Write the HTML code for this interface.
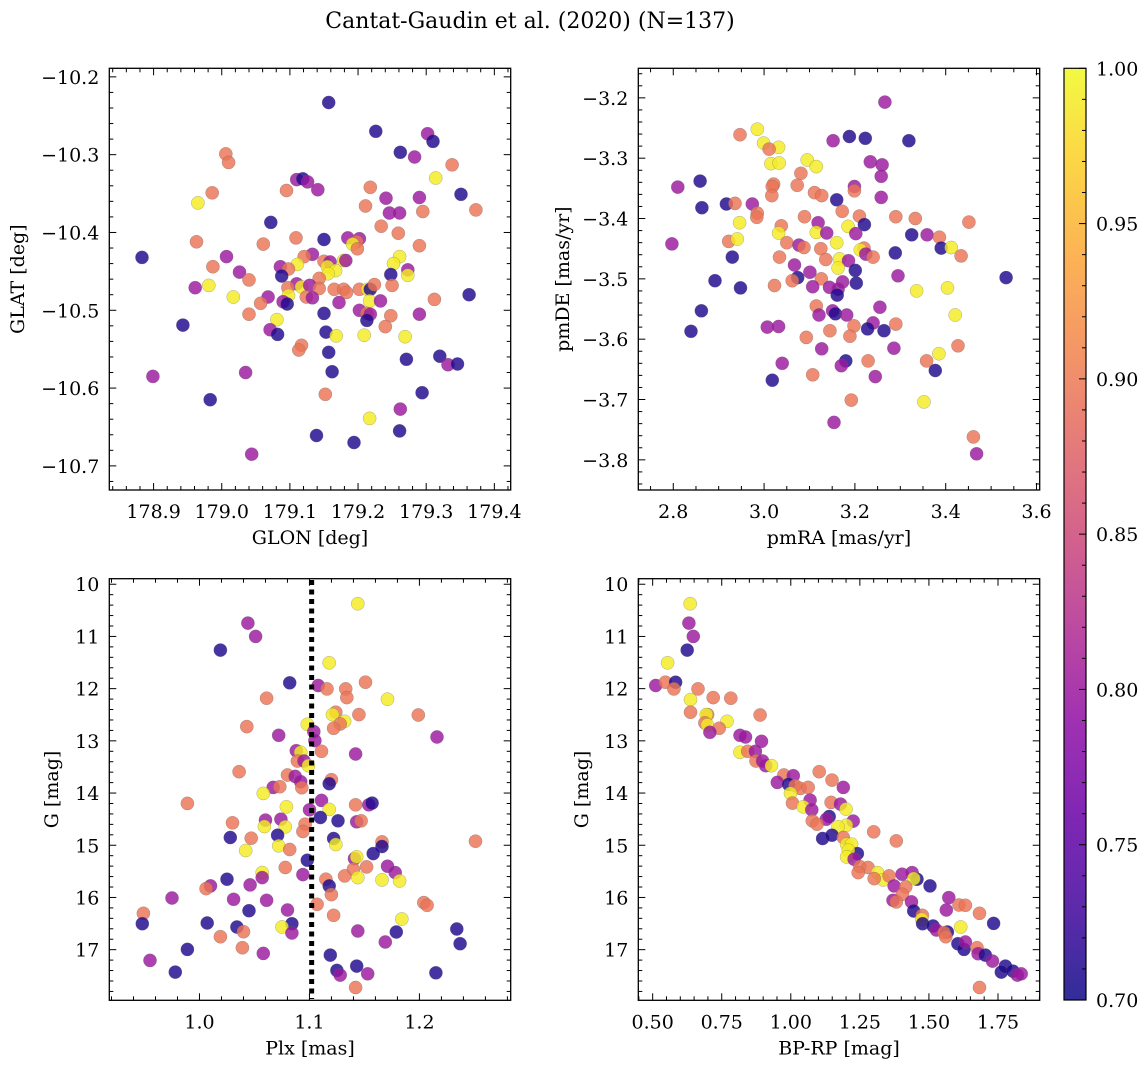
<!DOCTYPE html>
<html><head><meta charset="utf-8"><style>
html,body{margin:0;padding:0;background:#fff;}
svg{display:block;font-family:"DejaVu Serif","Liberation Serif",serif;}
</style></head><body>
<svg id="fig" width="1148" height="1067" viewBox="0 0 1148 1067" xmlns="http://www.w3.org/2000/svg">
<rect width="1148" height="1067" fill="#fff"/>
<text x="530" y="28" font-size="22" text-anchor="middle">Cantat-Gaudin et al. (2020) (N=137)</text>
</svg>
<script>
// ---- Panel 1: GLON vs GLAT ----
const glon = [179.157,179.226,179.302,179.310,179.262,179.283,179.006,179.010,179.338,179.314,179.110,179.119,179.126,179.141,179.095,178.986,179.218,179.351,178.965,179.241,179.290,179.211,179.373,179.246,179.261,179.295,179.072,179.234,179.259,179.109,179.150,179.185,179.202,179.198,179.192,179.199,178.963,179.061,179.290,178.883,179.007,179.133,179.121,179.261,179.252,179.111,179.086,179.098,179.150,179.159,179.155,179.167,179.179,179.182,179.273,179.273,179.248,178.987,179.026,179.088,179.040,179.156,178.961,178.981,179.143,179.110,179.117,179.129,179.097,179.143,179.165,179.179,179.183,179.202,179.214,179.218,179.224,179.250,179.017,179.098,179.124,179.133,179.068,179.057,179.090,179.096,179.172,179.217,179.233,179.312,179.363,179.202,179.150,179.213,179.218,179.213,179.248,179.290,179.040,178.943,179.081,179.071,179.082,179.153,179.168,179.209,179.240,179.269,179.117,179.113,179.157,179.271,179.320,179.332,179.346,179.162,178.899,179.035,178.983,179.152,179.294,179.262,179.217,179.261,179.139,179.194,179.044];
const glat = [-10.233,-10.270,-10.273,-10.283,-10.297,-10.303,-10.299,-10.310,-10.313,-10.330,-10.332,-10.331,-10.335,-10.345,-10.346,-10.349,-10.342,-10.351,-10.362,-10.356,-10.355,-10.366,-10.371,-10.375,-10.375,-10.373,-10.387,-10.392,-10.401,-10.407,-10.409,-10.407,-10.408,-10.412,-10.415,-10.421,-10.412,-10.415,-10.417,-10.432,-10.431,-10.428,-10.431,-10.431,-10.440,-10.441,-10.444,-10.447,-10.437,-10.438,-10.444,-10.449,-10.436,-10.436,-10.448,-10.455,-10.454,-10.444,-10.451,-10.456,-10.461,-10.453,-10.471,-10.468,-10.459,-10.466,-10.470,-10.468,-10.471,-10.472,-10.473,-10.473,-10.477,-10.473,-10.473,-10.473,-10.467,-10.468,-10.483,-10.481,-10.483,-10.484,-10.483,-10.491,-10.489,-10.492,-10.490,-10.488,-10.488,-10.486,-10.480,-10.500,-10.504,-10.504,-10.505,-10.513,-10.507,-10.505,-10.505,-10.519,-10.512,-10.525,-10.531,-10.528,-10.533,-10.532,-10.521,-10.534,-10.545,-10.551,-10.554,-10.563,-10.559,-10.570,-10.569,-10.579,-10.585,-10.580,-10.615,-10.608,-10.606,-10.627,-10.639,-10.655,-10.661,-10.670,-10.685];
const prob1 = [0.71,0.71,0.80,0.71,0.71,0.80,0.895,0.895,0.895,0.99,0.80,0.71,0.80,0.80,0.895,0.895,0.895,0.71,0.99,0.80,0.80,0.895,0.895,0.80,0.80,0.895,0.71,0.895,0.895,0.895,0.71,0.80,0.80,0.895,0.99,0.895,0.895,0.895,0.895,0.71,0.80,0.80,0.895,0.99,0.99,0.99,0.80,0.895,0.895,0.80,0.99,0.99,0.99,0.80,0.80,0.99,0.71,0.895,0.80,0.71,0.895,0.99,0.80,0.99,0.895,0.80,0.99,0.80,0.895,0.895,0.895,0.895,0.895,0.895,0.99,0.71,0.895,0.895,0.99,0.99,0.895,0.80,0.80,0.895,0.80,0.71,0.80,0.99,0.80,0.895,0.71,0.80,0.71,0.895,0.80,0.71,0.895,0.80,0.895,0.71,0.99,0.80,0.71,0.71,0.99,0.99,0.895,0.99,0.895,0.895,0.71,0.71,0.71,0.80,0.71,0.71,0.80,0.80,0.71,0.895,0.71,0.80,0.99,0.71,0.71,0.71,0.80];

// ---- Panel 2: pmRA vs pmDE ----
const pmra = [3.266,2.985,2.947,3.152,3.188,3.223,3.319,2.999,3.032,3.011,3.015,3.033,3.095,3.115,3.234,3.260,3.081,3.258,2.859,2.810,3.021,3.018,3.073,3.199,3.199,3.111,3.127,3.017,3.258,2.863,2.917,2.936,2.974,3.160,3.172,2.985,2.984,2.946,3.089,3.210,3.290,3.333,3.451,3.038,3.119,3.185,3.221,3.032,3.115,3.138,3.202,3.325,3.359,3.386,2.922,2.941,3.050,2.797,3.077,3.088,3.160,3.125,3.220,3.212,3.224,3.240,3.390,3.412,3.434,3.289,2.930,3.034,3.136,3.166,3.186,3.067,3.163,3.201,3.101,3.074,3.062,3.126,3.173,3.203,3.295,3.533,2.892,2.948,3.023,3.107,3.144,3.163,3.161,3.336,3.404,3.115,3.255,2.862,3.151,3.157,3.121,3.182,3.421,3.007,3.032,3.198,3.240,3.228,3.264,3.290,2.839,3.145,3.093,3.189,3.127,3.286,3.427,3.385,3.358,3.229,3.180,3.170,3.377,3.040,3.245,3.018,3.107,3.192,3.352,3.154,3.461,3.468];
const pmde = [-3.207,-3.252,-3.261,-3.271,-3.264,-3.267,-3.271,-3.275,-3.282,-3.285,-3.309,-3.308,-3.303,-3.314,-3.306,-3.311,-3.325,-3.330,-3.338,-3.348,-3.343,-3.347,-3.345,-3.347,-3.354,-3.357,-3.362,-3.362,-3.365,-3.382,-3.376,-3.375,-3.376,-3.369,-3.388,-3.391,-3.398,-3.407,-3.397,-3.396,-3.397,-3.400,-3.406,-3.412,-3.407,-3.413,-3.410,-3.424,-3.423,-3.424,-3.425,-3.427,-3.427,-3.431,-3.438,-3.434,-3.440,-3.442,-3.444,-3.448,-3.440,-3.450,-3.449,-3.452,-3.459,-3.464,-3.449,-3.448,-3.462,-3.457,-3.464,-3.464,-3.468,-3.467,-3.470,-3.477,-3.482,-3.486,-3.489,-3.498,-3.503,-3.500,-3.505,-3.507,-3.495,-3.498,-3.503,-3.515,-3.511,-3.513,-3.514,-3.517,-3.527,-3.520,-3.515,-3.545,-3.547,-3.553,-3.553,-3.558,-3.560,-3.560,-3.560,-3.580,-3.579,-3.578,-3.573,-3.583,-3.586,-3.575,-3.587,-3.586,-3.597,-3.595,-3.616,-3.615,-3.611,-3.624,-3.636,-3.636,-3.636,-3.644,-3.652,-3.640,-3.662,-3.668,-3.659,-3.701,-3.704,-3.738,-3.762,-3.790];
const prob2 = [0.80,0.99,0.895,0.80,0.71,0.71,0.71,0.99,0.99,0.895,0.99,0.99,0.99,0.99,0.80,0.80,0.895,0.80,0.71,0.80,0.895,0.895,0.895,0.80,0.895,0.895,0.895,0.895,0.80,0.71,0.71,0.895,0.80,0.71,0.895,0.895,0.895,0.99,0.895,0.895,0.895,0.895,0.895,0.895,0.80,0.99,0.71,0.99,0.99,0.80,0.80,0.71,0.80,0.895,0.895,0.99,0.895,0.80,0.80,0.895,0.99,0.895,0.895,0.99,0.80,0.895,0.71,0.99,0.895,0.71,0.71,0.895,0.895,0.99,0.80,0.80,0.99,0.71,0.80,0.71,0.895,0.895,0.80,0.71,0.80,0.71,0.71,0.71,0.895,0.80,0.80,0.80,0.71,0.99,0.99,0.895,0.80,0.71,0.80,0.71,0.80,0.80,0.99,0.80,0.80,0.895,0.80,0.71,0.71,0.895,0.71,0.895,0.895,0.895,0.80,0.80,0.895,0.99,0.895,0.895,0.71,0.80,0.71,0.80,0.80,0.71,0.895,0.895,0.99,0.80,0.895,0.80];

// ---- Panel 3: Plx vs G ----
const plx = [1.144,1.044,1.051,1.019,1.118,1.082,1.108,1.116,1.133,1.151,1.134,1.061,1.171,1.124,1.121,1.145,1.199,1.132,1.128,1.122,1.098,1.043,1.072,1.216,1.104,1.105,1.088,1.092,1.111,1.142,1.089,1.095,1.099,1.036,1.080,1.087,1.092,1.093,1.067,1.073,1.120,1.118,1.058,0.989,1.111,1.079,1.100,1.118,1.142,1.154,1.157,1.110,1.126,1.143,1.147,1.030,1.060,1.074,1.059,1.078,1.096,1.094,1.028,1.047,1.071,1.122,1.124,1.072,1.082,1.042,1.166,1.166,1.158,1.251,1.098,1.141,1.143,1.171,1.152,1.078,1.140,1.178,1.057,1.057,1.094,1.132,1.144,1.166,1.182,1.115,1.025,1.046,1.010,1.006,1.118,1.120,0.975,1.031,1.061,1.107,1.204,1.207,1.045,1.080,0.949,1.122,1.184,0.948,1.007,1.034,1.040,1.084,1.075,1.084,1.144,1.179,1.234,1.019,1.169,1.237,0.989,1.039,1.058,1.119,0.955,1.143,0.978,1.125,1.128,1.153,1.215,1.142];
const gmag3 = [10.373,10.744,11.0,11.262,11.505,11.889,11.940,12.004,12.004,11.877,12.171,12.184,12.203,12.452,12.497,12.497,12.504,12.625,12.676,12.759,12.683,12.727,12.894,12.926,12.823,12.996,13.188,13.220,13.201,13.252,13.386,13.386,13.476,13.591,13.655,13.681,13.783,13.898,13.892,13.879,13.745,13.821,14.007,14.199,14.141,14.263,14.321,14.314,14.225,14.225,14.193,14.468,14.532,14.551,14.532,14.570,14.519,14.500,14.640,14.647,14.596,14.736,14.852,14.864,14.807,14.871,14.986,15.011,15.082,15.101,14.935,15.024,15.159,14.922,15.287,15.255,15.223,15.402,15.415,15.427,15.459,15.523,15.523,15.619,15.562,15.587,15.619,15.664,15.683,15.651,15.651,15.760,15.779,15.830,15.779,15.946,16.010,16.035,16.054,16.131,16.099,16.150,16.253,16.240,16.304,16.342,16.413,16.502,16.489,16.566,16.656,16.502,16.566,16.681,16.643,16.662,16.605,16.752,16.854,16.886,16.995,16.963,17.072,17.104,17.206,17.315,17.430,17.398,17.488,17.462,17.443,17.724];
const prob3 = [0.99,0.80,0.80,0.71,0.99,0.71,0.80,0.895,0.895,0.895,0.895,0.895,0.99,0.895,0.99,0.895,0.895,0.99,0.895,0.895,0.99,0.895,0.80,0.80,0.80,0.80,0.80,0.99,0.895,0.80,0.895,0.80,0.99,0.895,0.895,0.80,0.80,0.895,0.80,0.895,0.895,0.71,0.99,0.895,0.80,0.99,0.80,0.99,0.895,0.80,0.71,0.71,0.71,0.80,0.895,0.895,0.80,0.80,0.99,0.99,0.895,0.895,0.71,0.895,0.71,0.71,0.99,0.99,0.895,0.99,0.895,0.71,0.71,0.895,0.71,0.80,0.99,0.80,0.895,0.895,0.895,0.80,0.99,0.80,0.80,0.895,0.99,0.99,0.99,0.895,0.71,0.80,0.80,0.895,0.71,0.895,0.80,0.80,0.80,0.895,0.895,0.895,0.71,0.80,0.895,0.895,0.99,0.71,0.71,0.71,0.895,0.71,0.99,0.80,0.80,0.71,0.71,0.895,0.80,0.71,0.71,0.895,0.80,0.71,0.80,0.71,0.71,0.71,0.80,0.80,0.71,0.895];

// ---- Panel 4: BP-RP vs G ----
const bprp = [0.636,0.631,0.647,0.625,0.554,0.511,0.546,0.583,0.577,0.664,0.637,0.719,0.783,0.637,0.699,0.694,0.769,0.889,0.689,0.698,0.741,0.707,0.816,0.836,0.894,0.816,0.844,0.872,0.874,0.898,0.909,0.930,0.975,1.009,0.951,0.992,1.016,1.034,1.063,1.103,1.149,1.190,0.999,1.006,1.070,1.045,1.076,1.146,1.180,1.200,1.226,1.139,1.129,1.078,1.095,1.201,1.171,1.115,1.149,1.300,1.382,1.190,1.202,1.220,1.241,1.208,1.202,1.229,1.250,1.280,1.244,1.314,1.334,1.302,1.356,1.403,1.439,1.457,1.445,1.504,1.374,1.416,1.404,1.370,1.382,1.437,1.572,1.563,1.609,1.632,1.445,1.476,1.474,1.477,1.515,1.527,1.567,1.555,1.561,1.615,1.683,1.734,1.605,1.627,1.632,1.674,1.678,1.704,1.730,1.777,1.762,1.804,1.820,1.834,1.683];
const gmag4 = [10.373,10.744,11.0,11.262,11.505,11.940,11.877,11.877,12.004,12.004,12.209,12.171,12.184,12.452,12.497,12.497,12.625,12.504,12.657,12.695,12.759,12.836,12.894,12.926,13.009,13.220,13.201,13.201,13.386,13.386,13.476,13.476,13.655,13.668,13.796,13.834,13.860,13.911,13.892,13.591,13.751,13.892,14.007,14.193,14.135,14.263,14.321,14.180,14.212,14.308,14.538,14.449,14.500,14.532,14.596,14.615,14.647,14.871,14.807,14.743,14.916,14.852,14.980,14.980,15.159,15.095,15.223,15.267,15.408,15.427,15.523,15.523,15.664,15.638,15.587,15.555,15.523,15.651,15.638,15.779,15.779,15.798,15.939,16.054,16.086,16.086,16.003,16.240,16.144,16.150,16.259,16.342,16.419,16.502,16.547,16.624,16.662,16.675,16.752,16.566,16.304,16.496,16.886,16.995,16.854,16.963,17.078,17.104,17.219,17.315,17.430,17.411,17.488,17.462,17.724];
const prob4 = [0.99,0.80,0.80,0.71,0.99,0.80,0.895,0.71,0.895,0.895,0.99,0.895,0.895,0.895,0.895,0.99,0.99,0.895,0.895,0.99,0.895,0.80,0.80,0.80,0.80,0.99,0.895,0.80,0.895,0.80,0.80,0.99,0.895,0.80,0.80,0.71,0.895,0.895,0.895,0.895,0.895,0.80,0.99,0.895,0.80,0.99,0.80,0.895,0.80,0.99,0.80,0.71,0.80,0.895,0.895,0.99,0.99,0.71,0.71,0.895,0.895,0.895,0.99,0.99,0.71,0.99,0.99,0.80,0.895,0.895,0.895,0.99,0.99,0.895,0.895,0.80,0.80,0.71,0.99,0.71,0.80,0.895,0.895,0.80,0.895,0.80,0.80,0.80,0.895,0.895,0.71,0.895,0.99,0.71,0.71,0.80,0.71,0.895,0.895,0.99,0.895,0.71,0.71,0.71,0.80,0.895,0.80,0.71,0.80,0.71,0.71,0.71,0.80,0.80,0.895];

const xticks1 = [178.9,179.0,179.1,179.2,179.3,179.4];
const yticks1 = [-10.2,-10.3,-10.4,-10.5,-10.6,-10.7];
const xticks2 = [2.8,3.0,3.2,3.4,3.6];
const yticks2 = [-3.2,-3.3,-3.4,-3.5,-3.6,-3.7,-3.8];
const xticks3 = [1.0,1.1,1.2];
const gticks = [10,11,12,13,14,15,16,17];
const xticks4 = [0.50,0.75,1.00,1.25,1.50,1.75];
const cbticks = [0.70,0.75,0.80,0.85,0.90,0.95,1.00];
const plxRef = [1.102];

const NS = "http://www.w3.org/2000/svg";
const svg = document.getElementById('fig');
const FS = 19;
function mk(tag, attrs, parent){
  const e = document.createElementNS(NS, tag);
  for (const k in attrs) e.setAttribute(k, attrs[k]);
  (parent||svg).appendChild(e);
  return e;
}
const stops = [[0,13,8,135],[0.1,65,4,157],[0.2,106,0,168],[0.3,143,13,164],[0.4,177,42,144],[0.5,204,71,120],[0.6,225,100,98],[0.7,242,132,75],[0.8,252,166,54],[0.9,252,206,37],[1,240,249,33]];
function plasma(t){
  t = Math.max(0, Math.min(1, t));
  for (let i=1;i<stops.length;i++){
    if (t <= stops[i][0]){
      const a = stops[i-1], b = stops[i], f = (t-a[0])/(b[0]-a[0]);
      return 'rgb('+[1,2,3].map(j=>Math.round(a[j]+(b[j]-a[j])*f)).join(',')+')';
    }
  }
  return 'rgb(240,249,33)';
}
function cnorm(p){ return (p-0.7)/0.3; }
function fmt(v, d){ return (v<0?'\u2212':'') + Math.abs(v).toFixed(d); }

function panel(name, box, xr, yr, xt, xdec, xminor, yt, ydec, yminor, xs, ys, ps, xlabel, ylabel, ylabX){
  const g = mk('g', {});
  
  
  const sx = v => box.x0 + (v - xr[0]) / (xr[1]-xr[0]) * (box.x1 - box.x0);
  const sy = v => box.y0 + (v - yr[0]) / (yr[1]-yr[0]) * (box.y1 - box.y0);
  const pg = mk('g', {}, g);
  
  
  for (let i=0;i<xs.length;i++){
    const c = mk('circle', {cx: sx(xs[i]).toFixed(1), cy: sy(ys[i]).toFixed(1), r: 6.6, fill: plasma(cnorm(ps[i])), 'fill-opacity': 0.82, stroke: '#666', 'stroke-opacity': 0.5, 'stroke-width': 0.5}, pg);
    
    
  }
  const tg = mk('g', {stroke: '#000', 'stroke-width': 1}, g);
  const xlo = Math.min(xr[0],xr[1]), xhi = Math.max(xr[0],xr[1]);
  const ylo = Math.min(yr[0],yr[1]), yhi = Math.max(yr[0],yr[1]);
  const n0 = Math.ceil(xlo/xminor - 1e-6), n1 = Math.floor(xhi/xminor + 1e-6);
  for (let n=n0;n<=n1;n++){
    const v = n*xminor, px = sx(v);
    const major = xt.some(t => Math.abs(t-v) < xminor/10);
    const L = major ? 7 : 4;
    mk('line', {x1: px, x2: px, y1: box.y1, y2: box.y1 - L}, tg);
    mk('line', {x1: px, x2: px, y1: box.y0, y2: box.y0 + L}, tg);
  }
  const m0 = Math.ceil(ylo/yminor - 1e-6), m1 = Math.floor(yhi/yminor + 1e-6);
  for (let n=m0;n<=m1;n++){
    const v = n*yminor, py = sy(v);
    const major = yt.some(t => Math.abs(t-v) < yminor/10);
    const L = major ? 7 : 4;
    mk('line', {x1: box.x0, x2: box.x0 + L, y1: py, y2: py}, tg);
    mk('line', {x1: box.x1, x2: box.x1 - L, y1: py, y2: py}, tg);
  }
  mk('rect', {x: box.x0, y: box.y0, width: box.x1-box.x0, height: box.y1-box.y0, fill: 'none', stroke: '#000', 'stroke-width': 1.3}, g);
  xt.forEach(v => {
    const t = mk('text', {x: sx(v), y: box.y1 + 28, 'font-size': FS, 'text-anchor': 'middle'}, g);
    t.textContent = fmt(v, xdec);
    
    
  });
  yt.forEach(v => {
    const t = mk('text', {x: box.x0 - 10, y: sy(v) + 7, 'font-size': FS, 'text-anchor': 'end'}, g);
    t.textContent = fmt(v, ydec);
    
    
  });
  const xl = mk('text', {x: (box.x0+box.x1)/2, y: box.y1 + 54, 'font-size': FS, 'text-anchor': 'middle'}, g);
  xl.textContent = xlabel;
  
  
  const cy = (box.y0+box.y1)/2;
  const yl = mk('text', {x: ylabX, y: cy, 'font-size': FS, 'text-anchor': 'middle', transform: 'rotate(-90 '+ylabX+' '+cy+')'}, g);
  yl.textContent = ylabel;
  
  
  return {sx, sy, g};
}

panel('glon-glat-panel', {x0:109.3,x1:510.7,y0:68.3,y1:490}, [178.835,179.424], [-10.189,-10.731], xticks1, 1, 0.02, yticks1, 1, 0.02, glon, glat, prob1, 'GLON [deg]', 'GLAT [deg]', 24);
panel('pm-panel', {x0:638.3,x1:1039.7,y0:68.3,y1:490}, [2.723,3.607], [-3.151,-3.850], xticks2, 1, 0.05, yticks2, 1, 0.02, pmra, pmde, prob2, 'pmRA [mas/yr]', 'pmDE [mas/yr]', 569);
const p3 = panel('plx-g-panel', {x0:109.3,x1:510.7,y0:578.7,y1:1000.3}, [0.918,1.283], [9.894,17.97], xticks3, 1, 0.02, gticks, 0, 0.2, plx, gmag3, prob3, 'Plx [mas]', 'G [mag]', 58);
panel('cmd-panel', {x0:638.3,x1:1039.7,y0:578.7,y1:1000.3}, [0.448,1.901], [9.894,17.97], xticks4, 2, 0.05, gticks, 0, 0.2, bprp, gmag4, prob4, 'BP-RP [mag]', 'G [mag]', 588);

plxRef.forEach(v => {
  const l = mk('line', {x1: p3.sx(v), x2: p3.sx(v), y1: 580, y2: 999, stroke: '#000', 'stroke-width': 5, 'stroke-dasharray': '5,4.5'});
  
  
});

const cb = {x0:1064, x1:1086, y0:68.3, y1:1000};
const cbg = mk('g', {});


const defs = mk('defs', {}, cbg);
const grad = mk('linearGradient', {id: 'cbgrad', x1: 0, y1: 1, x2: 0, y2: 0}, defs);
for (let i=0;i<=20;i++){
  const t = i/20;
  mk('stop', {offset: t, 'stop-color': plasma(t), 'stop-opacity': 0.85}, grad);
}
mk('rect', {x: cb.x0, y: cb.y0, width: cb.x1-cb.x0, height: cb.y1-cb.y0, fill: 'url(#cbgrad)', stroke: '#000', 'stroke-width': 1.2}, cbg);
const cby = v => cb.y1 - (v-0.7)/0.3*(cb.y1-cb.y0);
for (let n=70;n<=100;n++){
  const v = n/100, major = n%5===0;
  mk('line', {x1: cb.x1, x2: cb.x1 - (major?7:4), y1: cby(v), y2: cby(v), stroke: '#000', 'stroke-width': 1}, cbg);
}
cbticks.forEach(v => {
  const t = mk('text', {x: cb.x1 + 10, y: cby(v) + 7, 'font-size': FS}, cbg);
  t.textContent = v.toFixed(2);
  
  
});
</script>
</body></html>
